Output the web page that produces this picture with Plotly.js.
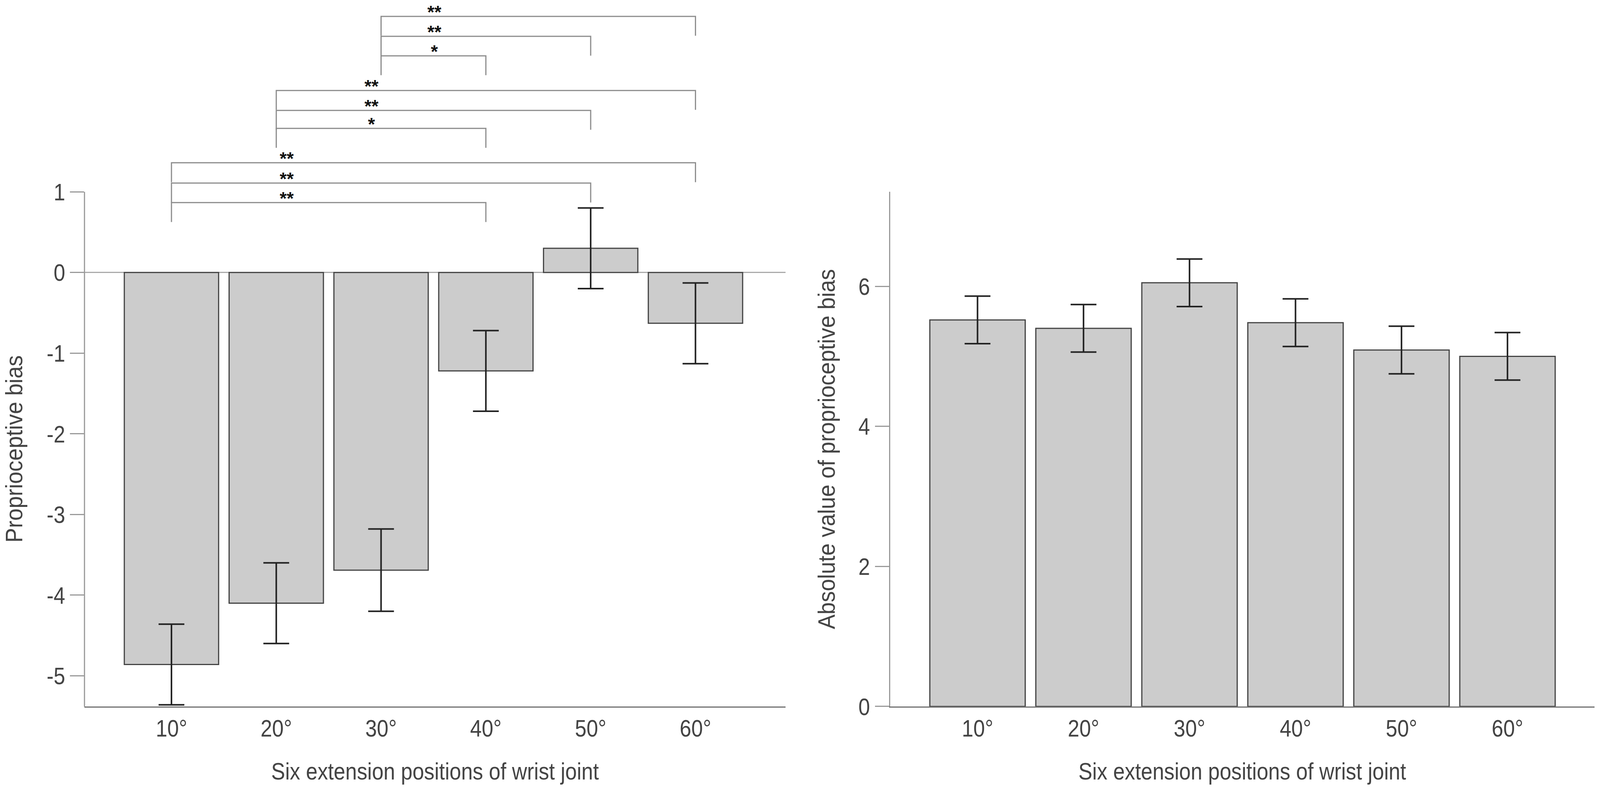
<!DOCTYPE html>
<html>
<head>
<meta charset="utf-8">
<script src="https://cdn.plot.ly/plotly-3.0.1.min.js"></script>
<style>html,body{margin:0;padding:0;background:#fff;overflow:hidden;}#chart{width:100vw;height:100vh;}</style>
</head>
<body>
<div id="chart"></div>
<script>
// ---- data ----
const categories = ['10°', '20°', '30°', '40°', '50°', '60°'];
const biasMean = [-4.86, -4.10, -3.69, -1.22, 0.30, -0.63];
const biasErr = [0.50, 0.50, 0.51, 0.50, 0.50, 0.50];
const absMean = [5.52, 5.40, 6.05, 5.48, 5.09, 5.00];
const absErr = [0.34, 0.34, 0.34, 0.34, 0.34, 0.34];
const leftTicks = [-5, -4, -3, -2, -1, 0, 1];
const rightTicks = [0, 2, 4, 6];
// significance brackets (category indices)
const bracketFrom = [0, 0, 0, 1, 1, 1, 2, 2, 2];
const bracketTo = [3, 4, 5, 3, 4, 5, 3, 4, 5];
const bracketY = [0.866, 1.108, 1.36, 1.786, 2.009, 2.256, 2.686, 2.928, 3.175];
const bracketLabel = ['**', '**', '**', '*', '**', '**', '*', '**', '**'];
const labelX = [1.10, 1.10, 1.10, 1.91, 1.91, 1.91, 2.51, 2.51, 2.51];
const bracketDrop = 0.24;

const W = window.innerWidth || 4318, H = window.innerHeight || 2028;
const xIdx = categories.map((_, i) => i);
const FONT = '"Liberation Sans", Arial, sans-serif';
const FS = 62;
const TXT = '#444444';
const barStyle = {color: '#cccccc', line: {color: '#444444', width: 3}};
const errStyle = {color: '#222222', thickness: 4, width: 33};

const traces = [
  {type: 'bar', x: xIdx, y: biasMean, width: 0.9, marker: barStyle,
   error_y: Object.assign({type: 'data', array: biasErr, visible: true}, errStyle),
   xaxis: 'x', yaxis: 'y', hoverinfo: 'skip'},
  {type: 'bar', x: xIdx, y: absMean, width: 0.9, marker: barStyle,
   error_y: Object.assign({type: 'data', array: absErr, visible: true}, errStyle),
   xaxis: 'x2', yaxis: 'y2', hoverinfo: 'skip'}
];

bracketFrom.forEach((f, i) => {
  const t = bracketTo[i], y = bracketY[i];
  traces.push({type: 'scatter', mode: 'lines', xaxis: 'x', yaxis: 'y', hoverinfo: 'skip',
    x: [f, f, t, t], y: [y - bracketDrop, y, y, y - bracketDrop],
    line: {color: '#8c8c8c', width: 3}});
});

const leftMin = -5.38, leftMax = 3.378, leftTop = 1;

const annotations = bracketLabel.map((lab, i) => ({
  xref: 'x', yref: 'y', x: labelX[i], y: bracketY[i], text: '<b>' + lab + '</b>', showarrow: false,
  yanchor: 'bottom', yshift: -17, font: {family: FONT, size: 46, color: '#111'}
}));
// left y-axis title, centred on the drawn part of the axis
annotations.push({xref: 'paper', yref: 'y', x: 0.0086, y: (leftMin + leftTop) / 2,
  xanchor: 'center', yanchor: 'middle', textangle: -90, showarrow: false,
  text: 'Proprioceptive bias', font: {family: FONT, size: FS, color: TXT}});

const axisCommon = {
  showgrid: false, tickfont: {family: FONT, size: FS, color: TXT},
  fixedrange: true
};

const layout = {
  width: W, height: H, margin: {l: 0, r: 0, t: 0, b: 0},
  paper_bgcolor: '#fff', plot_bgcolor: 'rgba(0,0,0,0)', showlegend: false,
  font: {family: FONT, color: TXT},
  xaxis: Object.assign({}, axisCommon, {
    domain: [0.0528, 0.491], anchor: 'y', range: [-0.83, 5.86],
    tickvals: xIdx, ticktext: categories, ticks: '', showline: true,
    linecolor: '#707070', linewidth: 3, zeroline: false,
    title: {text: 'Six extension positions of wrist joint', standoff: 55,
            font: {family: FONT, size: FS, color: TXT}}
  }),
  yaxis: Object.assign({}, axisCommon, {
    domain: [0.108, 1], anchor: 'x', range: [leftMin, leftMax],
    tickvals: leftTicks, ticktext: leftTicks.map(String), ticks: 'outside',
    ticklen: 36, tickwidth: 3, tickcolor: '#9a9a9a', showline: false,
    zeroline: true, zerolinecolor: '#aaaaaa', zerolinewidth: 3
  }),
  xaxis2: Object.assign({}, axisCommon, {
    domain: [0.5563, 0.9965], anchor: 'y2', range: [-0.825, 5.82],
    tickvals: xIdx, ticktext: categories, ticks: '', showline: true,
    linecolor: '#707070', linewidth: 3, zeroline: false,
    title: {text: 'Six extension positions of wrist joint', standoff: 55,
            font: {family: FONT, size: FS, color: TXT}}
  }),
  yaxis2: Object.assign({}, axisCommon, {
    domain: [0.108, 0.7579], anchor: 'x2', range: [0, 7.35],
    tickvals: rightTicks, ticktext: rightTicks.map(String), ticks: 'outside',
    ticklen: 36, tickwidth: 3, tickcolor: '#9a9a9a', showline: true,
    linecolor: '#9a9a9a', linewidth: 3, zeroline: false,
    title: {text: 'Absolute value of proprioceptive bias', standoff: 36,
            font: {family: FONT, size: FS, color: TXT}}
  }),
  shapes: [
    {type: 'line', xref: 'paper', yref: 'y', x0: 0.0528, x1: 0.0528, y0: leftMin, y1: leftTop,
     line: {color: '#9a9a9a', width: 3}}
  ],
  annotations: annotations
};

// the reference typeface is narrower than Liberation Sans: condense the glyphs a little
function condense(gd) {
  const sel = (q, f) => gd.querySelectorAll(q).forEach(t => {
    const L = t.getComputedTextLength();
    if (L > 0) { t.setAttribute('textLength', (L * f).toFixed(1)); t.setAttribute('lengthAdjust', 'spacingAndGlyphs'); }
  });
  sel('.xtick text, .x2tick text, .ytick text, .y2tick text, text.xtitle, text.x2title', 0.86);
  sel('text.y2title', 0.91);
  gd.querySelectorAll('.annotation-text').forEach(t => {
    if (t.textContent === 'Proprioceptive bias') {
      const L = t.getComputedTextLength();
      t.setAttribute('textLength', (L * 0.91).toFixed(1)); t.setAttribute('lengthAdjust', 'spacingAndGlyphs');
    }
  });
}

Plotly.newPlot('chart', traces, layout, {staticPlot: true, displayModeBar: false})
  .then(gd => condense(gd));
</script>
</body>
</html>
